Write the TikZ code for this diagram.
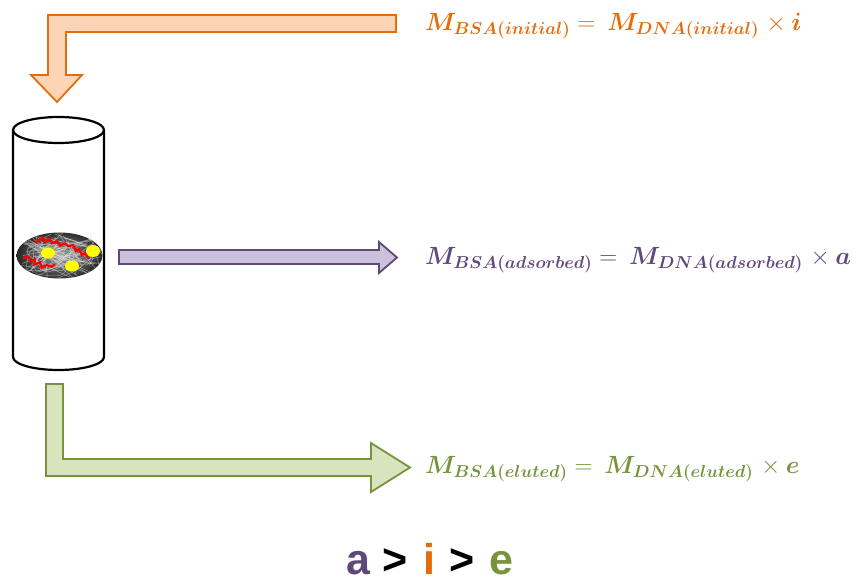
\documentclass[tikz,border=0pt]{standalone}
\usepackage{amsmath}
\usepackage{bm}
\usepackage{fontspec}
\usetikzlibrary{shapes.geometric}
\newfontfamily\labelsans{Liberation Sans}
\DeclareMathSizes{26}{26}{16.5}{12}
\newcommand{\eqgap}{\hspace{5pt}}
\newcommand{\timesgap}{\hspace{2pt}}
\definecolor{orangeline}{HTML}{E46C0A}
\definecolor{orangefill}{HTML}{FBD5B5}
\definecolor{purpleline}{HTML}{5F497A}
\definecolor{purplefill}{HTML}{CCC1DA}
\definecolor{greenline}{HTML}{77933C}
\definecolor{greenfill}{HTML}{D7E4BD}
\definecolor{dotyellow}{HTML}{FFFF00}
\begin{document}
\begin{tikzpicture}[x=1pt,y=-1pt,
  flowarrow/.style={line width=1.8pt, line join=miter},
  orangearrow/.style={flowarrow, draw=orangeline, fill=orangefill},
  purplearrow/.style={flowarrow, draw=purpleline, fill=purplefill},
  greenarrow/.style={flowarrow, draw=greenline, fill=greenfill},
  formula/.style={anchor=base west, inner sep=0pt, font=\fontsize{26}{30}\selectfont},
  chain/.style={line width=2.2pt, draw=red, line join=miter},
  fibre/.style={draw=white!85!gray, opacity=0.5, line width=0.5pt},
  ordersym/.style={anchor=base, inner sep=0pt, font=\labelsans\bfseries\fontsize{43}{48}\selectfont},
]
\useasboundingbox (0,0) rectangle (857,584);

% loading arrow (top)
\draw[orangearrow] (396,15) -- (48,15) -- (48,75) -- (31,75) -- (57,102)
  -- (82,75) -- (66,75) -- (66,32) -- (396,32) -- cycle;

% adsorption arrow (middle)
\draw[purplearrow] (119,250) -- (379,250) -- (379,242) -- (397,257.5)
  -- (379,273) -- (379,264) -- (119,264) -- cycle;

% elution arrow (bottom)
\draw[greenarrow] (46,384) -- (63,384) -- (63,459) -- (371,459) -- (371,443)
  -- (410,467.5) -- (371,492) -- (371,476) -- (46,476) -- cycle;

% column
\draw[line width=2.2pt] (58.5,130) ellipse [x radius=45.5pt, y radius=13pt];
\draw[line width=2.2pt] (13,130) -- (13,357)
  arc[start angle=180, end angle=360, x radius=45.5pt, y radius=13pt]
  -- (104,130);

% membrane disc with fibres
\begin{scope}
  \clip (59.5,255.5) ellipse [x radius=43pt, y radius=23pt];
  \shade[inner color=gray!80, outer color=black!90] (59.5,255.5) ellipse [x radius=48pt, y radius=28pt];
  \pgfmathsetseed{42}
  \foreach \k in {1,...,50}{
    \pgfmathsetmacro{\xa}{15+90*rnd}
    \pgfmathsetmacro{\ya}{230+50*rnd}
    \pgfmathsetmacro{\xb}{15+90*rnd}
    \pgfmathsetmacro{\yb}{230+50*rnd}
    \pgfmathsetmacro{\xc}{15+90*rnd}
    \pgfmathsetmacro{\yc}{230+50*rnd}
    \draw[fibre] (\xa,\ya) .. controls (\xc,\yc) .. (\xb,\yb);
  }
\end{scope}
\node[draw=none, ellipse, minimum width=86pt, minimum height=46pt] (disc) at (59.5,255.5) {};

% protein chains
\draw[chain] (35,242.3) -- (43.3,237.7) -- (44.3,241.7) -- (50,239) -- (51.7,243.3)
  -- (56.7,241) -- (60,245.7) -- (65,243.3) -- (68.3,246.3) -- (73.3,245)
  -- (75.7,251) -- (79,249) -- (81.7,255) -- (85,253.3) -- (88.3,258.3);
\draw[chain] (22.7,258.3) -- (28.3,256.7) -- (30,261) -- (35,259.3) -- (34.3,264.3)
  -- (40,262.3) -- (41.7,267.7) -- (46.7,265) -- (51.7,266.7) -- (55,264.3);

% DNA particles
\fill[dotyellow] (48,253) ellipse [x radius=7pt, y radius=5.5pt];
\fill[dotyellow] (93,251) ellipse [x radius=7pt, y radius=6pt];
\fill[dotyellow] (72,266) ellipse [x radius=7pt, y radius=5.5pt];

% mass balances
\node[formula, text=orangeline] (initial) at (425,30)
  {$\bm{M}_{\bm{BSA(initial)}} =\eqgap \bm{M}_{\bm{DNA(initial)}} \timesgap\times \bm{i}$};
\node[formula, text=purpleline] (adsorbed) at (425,264)
  {$\bm{M}_{\bm{BSA(adsorbed)}} =\eqgap \bm{M}_{\bm{DNA(adsorbed)}} \timesgap\times \bm{a}$};
\node[formula, text=greenline] (eluted) at (425,473)
  {$\bm{M}_{\bm{BSA(eluted)}} =\eqgap \bm{M}_{\bm{DNA(eluted)}} \timesgap\times \bm{e}$};

% ordering of the factors
\node[ordersym, text=purpleline] (ordera) at (358.5,574) {a};
\node[ordersym] (gt1) at (395.5,574) {>};
\node[ordersym, text=orangeline] (orderi) at (429.5,574) {i};
\node[ordersym] (gt2) at (462.5,574) {>};
\node[ordersym, text=greenline] (ordere) at (501.5,574) {e};
\end{tikzpicture}
\end{document}
